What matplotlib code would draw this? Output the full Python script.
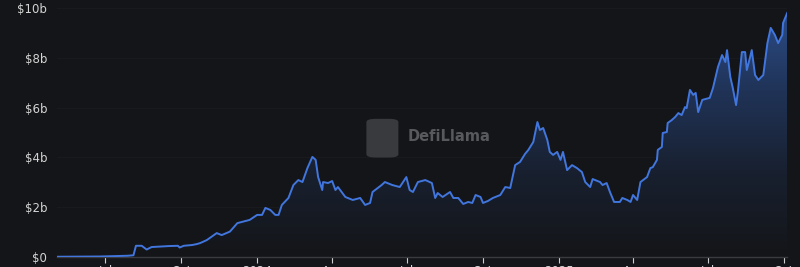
import numpy as np
import pandas as pd
import matplotlib
matplotlib.use("Agg")
import matplotlib.pyplot as plt
import matplotlib.dates as mdates
from matplotlib.patches import FancyBboxPatch
from matplotlib.colors import LinearSegmentedColormap

# TVL, billions of USD
dates = [
    "2023-05-03", "2023-06-24", "2023-07-28", "2023-08-04", "2023-08-07", "2023-08-14",
    "2023-08-20", "2023-08-26", "2023-09-05", "2023-09-17", "2023-09-27", "2023-09-29",
    "2023-10-04", "2023-10-14", "2023-10-20", "2023-10-24", "2023-11-01", "2023-11-13",
    "2023-11-19", "2023-11-29", "2023-12-08", "2023-12-23", "2024-01-01", "2024-01-07",
    "2024-01-11", "2024-01-17", "2024-01-23", "2024-01-27", "2024-01-31", "2024-02-08",
    "2024-02-14", "2024-02-20", "2024-02-25", "2024-03-02", "2024-03-08", "2024-03-12",
    "2024-03-15", "2024-03-20", "2024-03-21", "2024-03-27", "2024-04-01", "2024-04-05",
    "2024-04-08", "2024-04-17", "2024-04-26", "2024-05-05", "2024-05-11", "2024-05-17",
    "2024-05-20", "2024-05-31", "2024-06-04", "2024-06-13", "2024-06-22", "2024-06-30",
    "2024-07-04", "2024-07-08", "2024-07-14", "2024-07-23", "2024-07-31", "2024-08-04",
    "2024-08-07", "2024-08-13", "2024-08-22", "2024-08-26", "2024-09-01", "2024-09-07",
    "2024-09-13", "2024-09-18", "2024-09-22", "2024-09-28", "2024-10-01", "2024-10-07",
    "2024-10-13", "2024-10-22", "2024-10-28", "2024-11-03", "2024-11-09", "2024-11-15",
    "2024-11-21", "2024-11-25", "2024-12-01", "2024-12-06", "2024-12-09", "2024-12-13",
    "2024-12-18", "2024-12-21", "2024-12-25", "2024-12-30", "2025-01-03", "2025-01-06",
    "2025-01-11", "2025-01-17", "2025-01-23", "2025-01-29", "2025-02-02", "2025-02-08",
    "2025-02-11", "2025-02-20", "2025-02-23", "2025-02-28", "2025-03-04", "2025-03-09",
    "2025-03-16", "2025-03-19", "2025-03-25", "2025-03-29", "2025-04-01", "2025-04-06",
    "2025-04-10", "2025-04-18", "2025-04-22", "2025-04-25", "2025-04-30", "2025-05-01",
    "2025-05-06", "2025-05-07", "2025-05-12", "2025-05-13", "2025-05-18", "2025-05-22",
    "2025-05-26", "2025-05-30", "2025-06-03", "2025-06-05", "2025-06-09", "2025-06-13",
    "2025-06-16", "2025-06-19", "2025-06-24", "2025-07-03", "2025-07-07", "2025-07-13",
    "2025-07-18", "2025-07-22", "2025-07-24", "2025-07-28", "2025-07-31", "2025-08-04",
    "2025-08-06", "2025-08-11", "2025-08-15", "2025-08-17", "2025-08-21", "2025-08-23",
    "2025-08-27", "2025-08-31", "2025-09-06", "2025-09-11", "2025-09-15", "2025-09-20",
    "2025-09-24", "2025-09-29", "2025-09-30", "2025-10-05",
]
tvl = [
    0.01, 0.02, 0.05, 0.07, 0.45, 0.45,
    0.30, 0.40, 0.42, 0.44, 0.45, 0.38,
    0.45, 0.48, 0.52, 0.56, 0.68, 0.96,
    0.88, 1.02, 1.36, 1.49, 1.69, 1.69,
    1.97, 1.89, 1.69, 1.69, 2.09, 2.37,
    2.89, 3.09, 3.01, 3.57, 4.02, 3.90,
    3.21, 2.69, 3.01, 2.97, 3.05, 2.69,
    2.81, 2.41, 2.29, 2.37, 2.09, 2.17,
    2.61, 2.89, 3.01, 2.89, 2.81, 3.21,
    2.69, 2.61, 3.01, 3.09, 2.97, 2.37,
    2.57, 2.41, 2.61, 2.37, 2.37, 2.13,
    2.21, 2.17, 2.49, 2.41, 2.17, 2.25,
    2.37, 2.49, 2.81, 2.77, 3.69, 3.82,
    4.14, 4.30, 4.62, 5.42, 5.10, 5.18,
    4.70, 4.22, 4.10, 4.22, 3.90, 4.22,
    3.49, 3.69, 3.57, 3.41, 3.01, 2.81,
    3.13, 3.01, 2.89, 2.97, 2.61, 2.21,
    2.21, 2.37, 2.29, 2.21, 2.49, 2.29,
    3.01, 3.21, 3.57, 3.61, 3.90, 4.30,
    4.42, 4.98, 5.02, 5.38, 5.50, 5.62,
    5.78, 5.70, 6.02, 5.98, 6.71, 6.51,
    6.59, 5.82, 6.31, 6.39, 6.79, 7.63,
    8.11, 7.83, 8.31, 7.23, 6.79, 6.10,
    6.59, 8.23, 8.23, 7.51, 8.03, 8.31,
    7.31, 7.11, 7.31, 8.59, 9.20, 8.92,
    8.59, 8.92, 9.40, 9.80,
]
yticks = [0, 2, 4, 6, 8, 10]
ytick_labels = ["$0", "$2b", "$4b", "$6b", "$8b", "$10b"]
xticks = ["2023-07-01", "2023-10-01", "2024-01-01", "2024-04-01", "2024-07-01",
          "2024-10-01", "2025-01-01", "2025-04-01", "2025-07-01", "2025-10-01"]
xtick_labels = ["Jul", "Oct", "2024", "Apr", "Jul", "Oct", "2025", "Apr", "Jul", "Oct"]

bg = "#141518"
line_col = "#4176de"

x = mdates.date2num(pd.to_datetime(dates))
y = np.array(tvl)

fig = plt.figure(figsize=(8, 2.67), dpi=100, facecolor=bg)
ax = fig.add_axes([0.071, 0.0375, 0.913, 0.9325])
ax.set_facecolor(bg)

ax.set_xlim(x[0], x[-1])
ax.set_ylim(0, 10)

# gradient under the line, opaque colours from top (value 10) to bottom (0)
cmap = LinearSegmentedColormap.from_list(
    "fillgrad", ["#141518", "#18202f", "#203357", "#2c4d88"])
grad = np.linspace(1, 0, 256).reshape(-1, 1)
im = ax.imshow(grad, cmap=cmap, aspect="auto", extent=[x[0], x[-1], 0, 10],
               origin="upper", zorder=1, vmin=0, vmax=1)
poly = ax.fill_between(x, y, 0, color="none", lw=0)
im.set_clip_path(poly.get_paths()[0], transform=ax.transData)

ax.plot(x, y, color=line_col, lw=1.4, zorder=3, solid_joinstyle="round")

ax.set_yticks(yticks)
ax.set_yticklabels(ytick_labels)
ax.set_xticks(mdates.date2num(pd.to_datetime(xticks)))
ax.set_xticklabels(xtick_labels)
ax.tick_params(axis="y", length=0, pad=7, labelsize=8.5, labelcolor="#d4d4d4")
ax.tick_params(axis="x", length=4, width=0.8, color="#cfcfcf", pad=2,
               labelsize=8.5, labelcolor="#d4d4d4")

ax.grid(axis="y", color="#191a1e", lw=0.8)
ax.set_axisbelow(True)
for s in ["top", "right", "left"]:
    ax.spines[s].set_visible(False)
ax.spines["bottom"].set_color("#3a3b40")
ax.spines["bottom"].set_linewidth(1.0)

# watermark
logo = FancyBboxPatch((0.458, 0.41), 0.04, 0.145, boxstyle="round,pad=0,rounding_size=0.012",
                      transform=fig.transFigure, facecolor="#393a3d", edgecolor="none",
                      zorder=0.5)
fig.patches.append(logo)
fig.text(0.509, 0.487, "DefiLlama", color="#58595c", fontsize=10.5, fontweight="bold",
         ha="left", va="center", zorder=0.6)

fig.savefig("out.png", dpi=100, facecolor=bg)
